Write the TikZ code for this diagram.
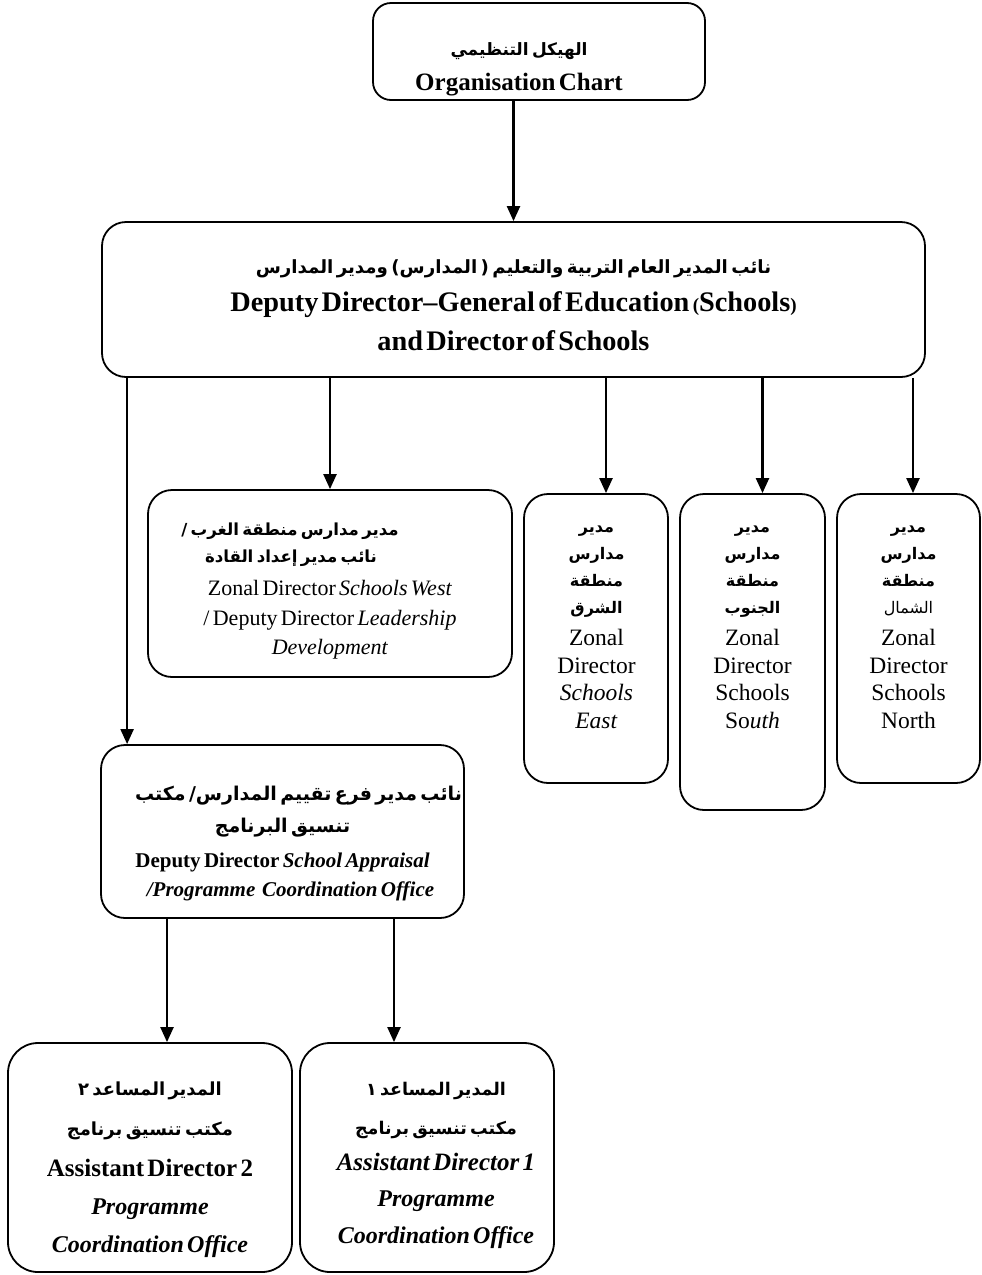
\documentclass[tikz,border=0pt]{standalone}
\usepackage{fontspec}
\setmainfont{Liberation Serif}
\newfontfamily\arfont[Script=Arabic]{DejaVu Sans}
\TeXXeTstate=1
\usetikzlibrary{arrows.meta}
\newcommand{\AR}[1]{{\arfont\bfseries\beginR #1\endR}}
\newcommand{\ARn}[1]{{\arfont\beginR #1\endR}}
\newcommand{\Ln}[3]{{\fontsize{#1}{#2}\selectfont\lineskiplimit=-100pt\relax\lineskip=0pt\relax #3\par}}
\newcommand{\pad}[1]{\leavevmode\hbox to #1{}}
\tikzset{
  box/.style={draw, line width=1.8pt, rounded corners=24pt, inner sep=0pt},
  txt/.style={inner sep=0pt, align=center, anchor=base},
  arr/.style={line width=2.2pt, -{Triangle[width=13pt,length=15pt]}}
}
\begin{document}
\begin{tikzpicture}[x=1pt,y=-1pt]
\useasboundingbox (0,0) rectangle (982,1275);

% boxes
\node[box, minimum width=332pt, minimum height=97pt, rounded corners=18pt] (top) at (539,51.5) {};
\node[box, minimum width=823pt, minimum height=155pt] (big) at (513.5,299.5) {};
\node[box, minimum width=364pt, minimum height=187pt] (west) at (330,583.5) {};
\node[box, minimum width=144pt, minimum height=289pt] (east) at (596,638.5) {};
\node[box, minimum width=145pt, minimum height=316pt] (south) at (752.5,652) {};
\node[box, minimum width=143pt, minimum height=289pt] (north) at (908.5,638.5) {};
\node[box, minimum width=363pt, minimum height=173pt] (appr) at (282.5,831.5) {};
\node[box, minimum width=284pt, minimum height=229pt, rounded corners=30pt] (bl) at (150,1157.5) {};
\node[box, minimum width=254pt, minimum height=229pt, rounded corners=30pt] (br) at (427,1157.5) {};

% texts
\node[txt, text width=320pt] (topT) at (519,55) {%
\Ln{17}{10}{\AR{الهيكل التنظيمي}}%
\Ln{25}{35}{\bfseries Organisation Chart}};

\node[txt, text width=800pt] (bigT) at (513.5,273) {%
\Ln{18.2}{10}{\AR{نائب المدير العام التربية والتعليم ( المدارس) ومدير المدارس}}%
\Ln{28.3}{38}{\bfseries Deputy Director--General of Education {\fontsize{19}{38}\selectfont(}Schools{\fontsize{19}{38}\selectfont)}}%
\Ln{28.3}{39}{\bfseries and Director of Schools}};

\node[txt, text width=360pt] (westT) at (330,535) {%
\Ln{16.6}{10}{\AR{مدير مدارس منطقة الغرب /}\pad{80pt}}%
\Ln{16.6}{27}{\AR{نائب مدير إعداد القادة}\pad{78pt}}%
\Ln{22}{33}{Zonal Director \textit{Schools West}}%
\Ln{22}{30}{/ Deputy Director \textit{Leadership}}%
\Ln{22}{29}{\textit{Development}}};

\node[txt, text width=140pt] (eastT) at (596.5,532) {%
\Ln{16}{10}{\AR{مدير}}\Ln{16}{27}{\AR{مدارس}}\Ln{16}{27}{\AR{منطقة}}\Ln{16}{27}{\AR{الشرق}}%
\Ln{23.5}{32}{Zonal}\Ln{23.5}{28}{Director}\Ln{23.5}{27}{\textit{Schools}}\Ln{23.5}{28}{\textit{East}}};

\node[txt, text width=140pt] (southT) at (752.5,532) {%
\Ln{16}{10}{\AR{مدير}}\Ln{16}{27}{\AR{مدارس}}\Ln{16}{27}{\AR{منطقة}}\Ln{16}{27}{\AR{الجنوب}}%
\Ln{23.5}{32}{Zonal}\Ln{23.5}{28}{Director}\Ln{23.5}{27}{Schools}\Ln{23.5}{28}{So\textit{uth}}};

\node[txt, text width=140pt] (northT) at (908.5,532) {%
\Ln{16}{10}{\AR{مدير}}\Ln{16}{27}{\AR{مدارس}}\Ln{16}{27}{\AR{منطقة}}\Ln{16}{27}{\ARn{الشمال}}%
\Ln{23.5}{32}{Zonal}\Ln{23.5}{28}{Director}\Ln{23.5}{27}{Schools}\Ln{23.5}{28}{North}};

\node[txt, text width=360pt] (apprT) at (282.5,800) {%
\Ln{19}{10}{\pad{32pt}\AR{نائب مدير فرع  تقييم المدارس/ مكتب}}%
\Ln{19}{32}{\AR{تنسيق البرنامج}}%
\Ln{21}{35}{\bfseries Deputy Director \textit{School Appraisal}}%
\Ln{21}{29}{\pad{16pt}\bfseries\itshape /Programme\ \ Coordination Office}};

\node[txt, text width=280pt] (blT) at (150,1095) {%
\Ln{18}{10}{\AR{المدير المساعد ٢}}%
\Ln{18}{40}{\AR{مكتب تنسيق برنامج}}%
\Ln{25}{41}{\bfseries Assistant Director 2}%
\Ln{24}{38}{\bfseries\itshape Programme}%
\Ln{24}{38}{\bfseries\itshape Coordination Office}};

\node[txt, text width=250pt] (brT) at (436,1095) {%
\Ln{17.5}{10}{\AR{المدير المساعد ١}}%
\Ln{17.5}{39}{\AR{مكتب تنسيق برنامج}}%
\Ln{25}{36}{\bfseries\itshape Assistant Director 1}%
\Ln{24}{36}{\bfseries\itshape Programme}%
\Ln{24}{37}{\bfseries\itshape Coordination Office}};

% connectors
\draw[arr] (top.south -| big.north) -- (big.north);
\draw[arr] (big.south -| west.north) -- (west.north);
\draw[arr] ([xshift=10pt]east.north |- big.south) -- ([xshift=10pt]east.north);
\draw[arr] ([xshift=10pt]south.north |- big.south) -- ([xshift=10pt]south.north);
\draw[arr] ([xshift=4.5pt]north.north |- big.south) -- ([xshift=4.5pt]north.north);
\draw[arr] ([xshift=27pt]appr.north west |- big.south) -- ([xshift=27pt]appr.north west);
\draw[arr] ([xshift=17pt]bl.north |- appr.south) -- ([xshift=17pt]bl.north);
\draw[arr] ([xshift=-33pt]br.north |- appr.south) -- ([xshift=-33pt]br.north);
\end{tikzpicture}
\end{document}
